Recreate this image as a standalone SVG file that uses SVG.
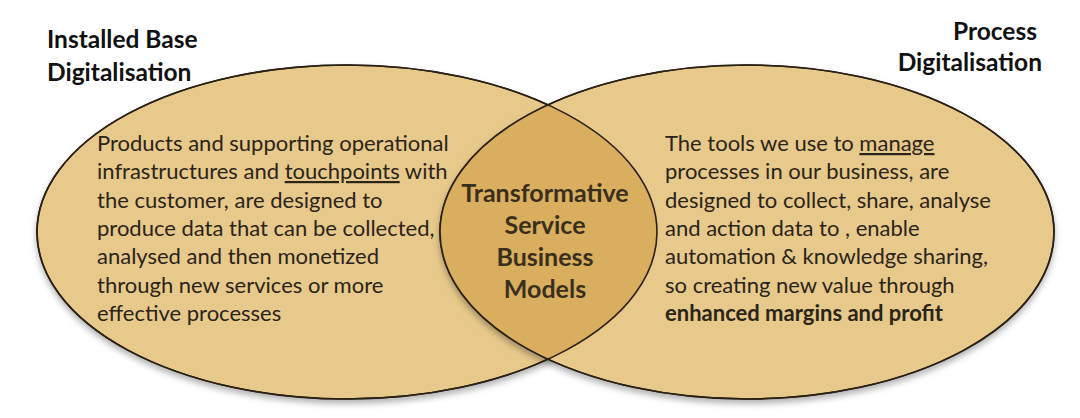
<svg xmlns="http://www.w3.org/2000/svg" width="1080" height="418" viewBox="0 0 1080 418">
<style>
.title{font-family:Lato,"Liberation Sans",sans-serif;font-weight:bold;font-size:24.5px;fill:#111}
.body{font-family:Lato,"Liberation Sans",sans-serif;font-size:22px;fill:#2b2418}
.center{font-family:Lato,"Liberation Sans",sans-serif;font-weight:bold;font-size:25px;fill:#3a2f1c;text-anchor:middle}
.ell{fill:#E7C98B;stroke:#2a2014;stroke-width:1.6}
</style>
<defs>
<filter id="sh" x="-10%" y="-10%" width="120%" height="130%">
<feDropShadow dx="0" dy="4" stdDeviation="3" flood-color="#000" flood-opacity="0.3"/>
</filter>
<clipPath id="clipL"><ellipse cx="347" cy="232" rx="310" ry="167"/></clipPath>
</defs>
<rect width="1080" height="418" fill="#fff"/>
<g id="left-set">
<ellipse class="ell" cx="347" cy="232" rx="310" ry="167" filter="url(#sh)"/>
</g>
<g id="right-set">
<ellipse class="ell" cx="747" cy="232" rx="307" ry="167" filter="url(#sh)"/>
</g>
<g id="overlap">
<ellipse cx="747" cy="232" rx="307" ry="167" fill="#D9AE5E" clip-path="url(#clipL)"/>
<ellipse cx="347" cy="232" rx="310" ry="167" fill="none" stroke="#2a2014" stroke-width="1.6"/>
<ellipse cx="747" cy="232" rx="307" ry="167" fill="none" stroke="#2a2014" stroke-width="1.6"/>
<text class="center" x="545" y="202">Transformative</text>
<text class="center" x="545" y="234">Service</text>
<text class="center" x="545" y="266">Business</text>
<text class="center" x="545" y="298">Models</text>
</g>
<g id="title-left">
<text class="title" x="47" y="48">Installed Base</text>
<text class="title" x="47" y="81">Digitalisation</text>
</g>
<g id="title-right">
<text class="title" x="1037" y="40" text-anchor="end">Process</text>
<text class="title" x="1042" y="71" text-anchor="end">Digitalisation</text>
</g>
<g id="text-left">
<text class="body" x="97" y="151">Products and supporting operational</text>
<text class="body" x="97" y="179">infrastructures and <tspan text-decoration="underline">touchpoints</tspan> with</text>
<text class="body" x="97" y="208">the customer, are designed to</text>
<text class="body" x="97" y="236">produce data that can be collected,</text>
<text class="body" x="97" y="264">analysed and then monetized</text>
<text class="body" x="97" y="293">through new services or more</text>
<text class="body" x="97" y="321">effective processes</text>
</g>
<g id="text-right">
<text class="body" x="665" y="151">The tools we use to <tspan text-decoration="underline">manage</tspan></text>
<text class="body" x="665" y="179">processes in our business, are</text>
<text class="body" x="665" y="208">designed to collect, share, analyse</text>
<text class="body" x="665" y="236">and action data to , enable</text>
<text class="body" x="665" y="264">automation &amp; knowledge sharing,</text>
<text class="body" x="665" y="293">so creating new value through</text>
<text class="body" x="665" y="321" font-weight="bold">enhanced margins and profit</text>
</g>
</svg>
